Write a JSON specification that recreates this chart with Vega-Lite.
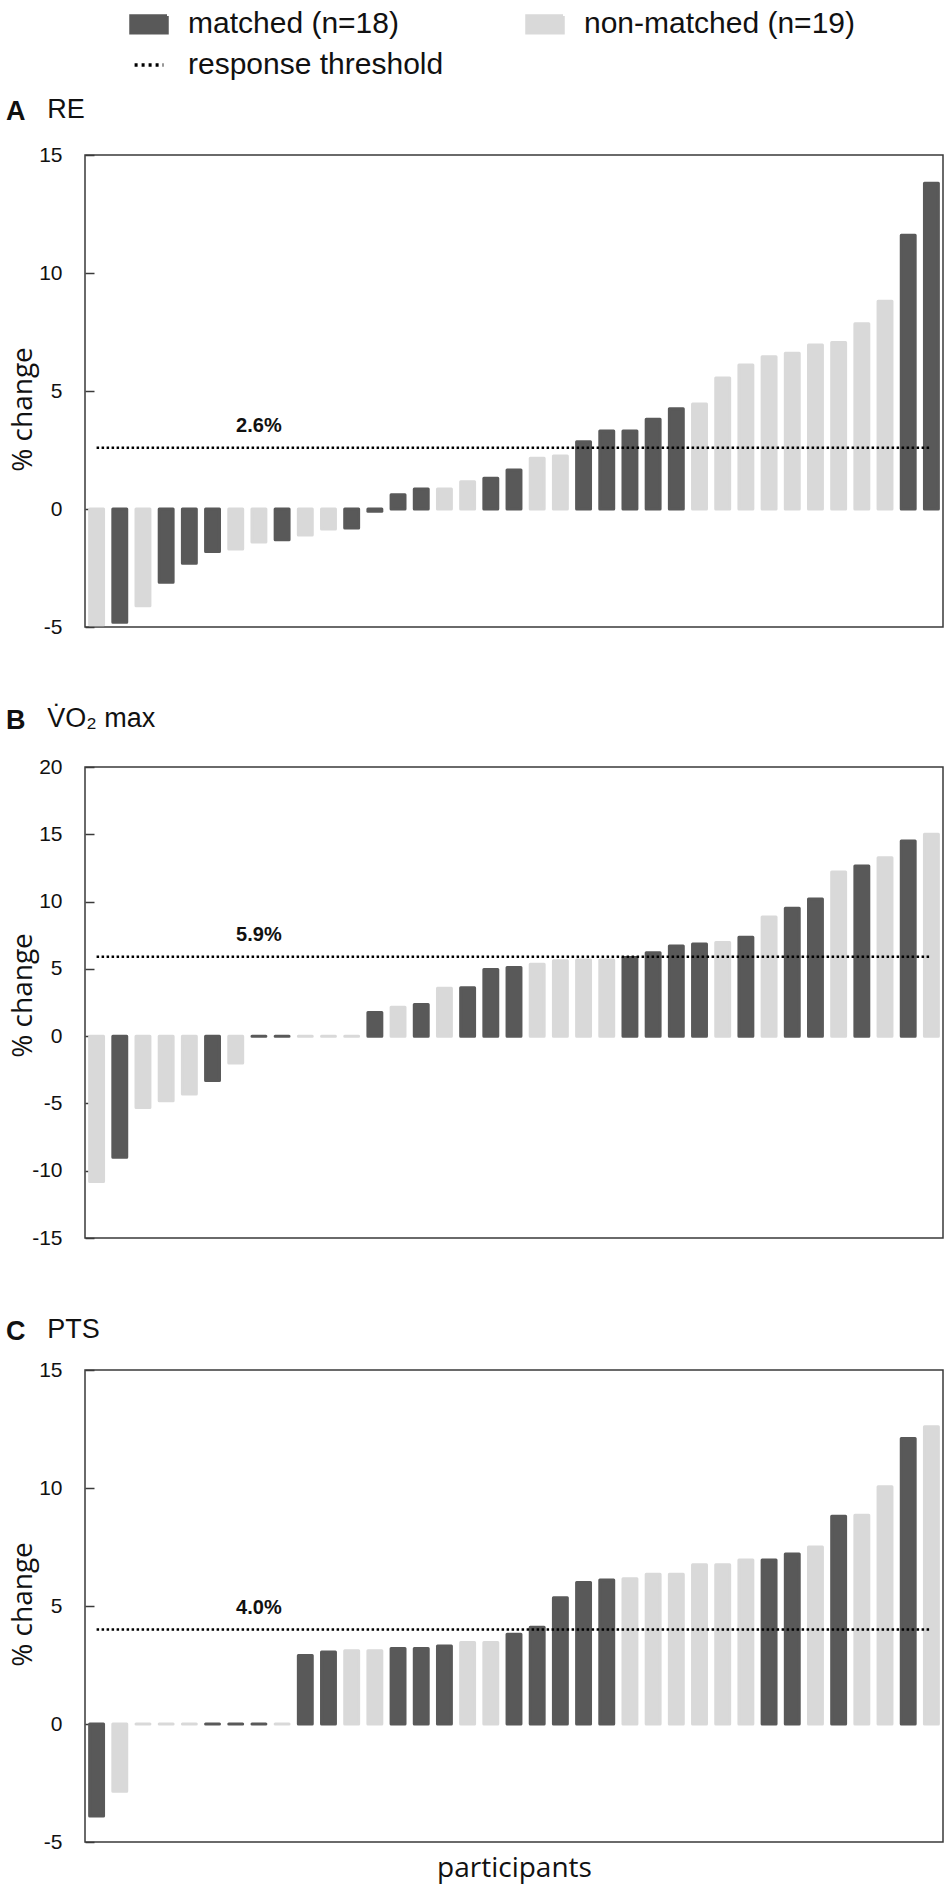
{
  "$schema": "https://vega.github.io/schema/vega-lite/v6.json",
  "background": "white",
  "padding": {"left": 5, "top": 4, "right": 5, "bottom": 4},
  "config": {
    "view": {"stroke": "#3a3a3a", "strokeWidth": 1.5},
    "axis": {"grid": false, "ticks": false, "tickSize": 0, "domain": false, "labelFont": "Liberation Sans", "labelFontSize": 21, "labelColor": "#111", "labelPadding": 23, "titleFont": "Open Sans", "titleFontSize": 28, "titleFontWeight": "normal", "titleColor": "#111"},
    "axisY": {"ticks": true, "tickSize": -9, "tickColor": "#3a3a3a", "tickWidth": 1.5, "labelPadding": 32, "titleX": -54, "titleBaseline": "alphabetic", "labelExpr": "'' + datum.value"},
    "title": {"font": "Liberation Sans Narrow, Liberation Sans", "fontSize": 27, "color": "#111", "anchor": "start", "frame": "bounds", "lineHeight": 27},
    "legend": {"labelFont": "Liberation Sans", "labelFontSize": 30, "labelColor": "#111", "labelOffset": 19, "labelLimit": 400, "columnPadding": 76, "rowPadding": 5, "symbolSize": 1296, "padding": 0}
  },
  "datasets": {
    "bars": [
      {"panel": "A", "p": 1, "group": "non-matched (n=19)", "value": -4.9},
      {"panel": "A", "p": 2, "group": "matched (n=18)", "value": -4.8},
      {"panel": "A", "p": 3, "group": "non-matched (n=19)", "value": -4.1},
      {"panel": "A", "p": 4, "group": "matched (n=18)", "value": -3.1},
      {"panel": "A", "p": 5, "group": "matched (n=18)", "value": -2.3},
      {"panel": "A", "p": 6, "group": "matched (n=18)", "value": -1.8},
      {"panel": "A", "p": 7, "group": "non-matched (n=19)", "value": -1.7},
      {"panel": "A", "p": 8, "group": "non-matched (n=19)", "value": -1.4},
      {"panel": "A", "p": 9, "group": "matched (n=18)", "value": -1.3},
      {"panel": "A", "p": 10, "group": "non-matched (n=19)", "value": -1.1},
      {"panel": "A", "p": 11, "group": "non-matched (n=19)", "value": -0.85},
      {"panel": "A", "p": 12, "group": "matched (n=18)", "value": -0.8},
      {"panel": "A", "p": 13, "group": "matched (n=18)", "value": -0.1},
      {"panel": "A", "p": 14, "group": "matched (n=18)", "value": 0.6},
      {"panel": "A", "p": 15, "group": "matched (n=18)", "value": 0.85},
      {"panel": "A", "p": 16, "group": "non-matched (n=19)", "value": 0.85},
      {"panel": "A", "p": 17, "group": "non-matched (n=19)", "value": 1.15},
      {"panel": "A", "p": 18, "group": "matched (n=18)", "value": 1.3},
      {"panel": "A", "p": 19, "group": "matched (n=18)", "value": 1.65},
      {"panel": "A", "p": 20, "group": "non-matched (n=19)", "value": 2.15},
      {"panel": "A", "p": 21, "group": "non-matched (n=19)", "value": 2.25},
      {"panel": "A", "p": 22, "group": "matched (n=18)", "value": 2.85},
      {"panel": "A", "p": 23, "group": "matched (n=18)", "value": 3.3},
      {"panel": "A", "p": 24, "group": "matched (n=18)", "value": 3.3},
      {"panel": "A", "p": 25, "group": "matched (n=18)", "value": 3.8},
      {"panel": "A", "p": 26, "group": "matched (n=18)", "value": 4.25},
      {"panel": "A", "p": 27, "group": "non-matched (n=19)", "value": 4.45},
      {"panel": "A", "p": 28, "group": "non-matched (n=19)", "value": 5.55},
      {"panel": "A", "p": 29, "group": "non-matched (n=19)", "value": 6.1},
      {"panel": "A", "p": 30, "group": "non-matched (n=19)", "value": 6.45},
      {"panel": "A", "p": 31, "group": "non-matched (n=19)", "value": 6.6},
      {"panel": "A", "p": 32, "group": "non-matched (n=19)", "value": 6.95},
      {"panel": "A", "p": 33, "group": "non-matched (n=19)", "value": 7.05},
      {"panel": "A", "p": 34, "group": "non-matched (n=19)", "value": 7.85},
      {"panel": "A", "p": 35, "group": "non-matched (n=19)", "value": 8.8},
      {"panel": "A", "p": 36, "group": "matched (n=18)", "value": 11.6},
      {"panel": "A", "p": 37, "group": "matched (n=18)", "value": 13.8},

      {"panel": "B", "p": 1, "group": "non-matched (n=19)", "value": -10.8},
      {"panel": "B", "p": 2, "group": "matched (n=18)", "value": -9.0},
      {"panel": "B", "p": 3, "group": "non-matched (n=19)", "value": -5.3},
      {"panel": "B", "p": 4, "group": "non-matched (n=19)", "value": -4.8},
      {"panel": "B", "p": 5, "group": "non-matched (n=19)", "value": -4.3},
      {"panel": "B", "p": 6, "group": "matched (n=18)", "value": -3.3},
      {"panel": "B", "p": 7, "group": "non-matched (n=19)", "value": -2.0},
      {"panel": "B", "p": 8, "group": "matched (n=18)", "value": 0},
      {"panel": "B", "p": 9, "group": "matched (n=18)", "value": 0},
      {"panel": "B", "p": 10, "group": "non-matched (n=19)", "value": 0},
      {"panel": "B", "p": 11, "group": "non-matched (n=19)", "value": 0},
      {"panel": "B", "p": 12, "group": "non-matched (n=19)", "value": 0},
      {"panel": "B", "p": 13, "group": "matched (n=18)", "value": 1.75},
      {"panel": "B", "p": 14, "group": "non-matched (n=19)", "value": 2.15},
      {"panel": "B", "p": 15, "group": "matched (n=18)", "value": 2.35},
      {"panel": "B", "p": 16, "group": "non-matched (n=19)", "value": 3.55},
      {"panel": "B", "p": 17, "group": "matched (n=18)", "value": 3.6},
      {"panel": "B", "p": 18, "group": "matched (n=18)", "value": 4.95},
      {"panel": "B", "p": 19, "group": "matched (n=18)", "value": 5.1},
      {"panel": "B", "p": 20, "group": "non-matched (n=19)", "value": 5.35},
      {"panel": "B", "p": 21, "group": "non-matched (n=19)", "value": 5.6},
      {"panel": "B", "p": 22, "group": "non-matched (n=19)", "value": 5.65},
      {"panel": "B", "p": 23, "group": "non-matched (n=19)", "value": 5.65},
      {"panel": "B", "p": 24, "group": "matched (n=18)", "value": 5.85},
      {"panel": "B", "p": 25, "group": "matched (n=18)", "value": 6.2},
      {"panel": "B", "p": 26, "group": "matched (n=18)", "value": 6.7},
      {"panel": "B", "p": 27, "group": "matched (n=18)", "value": 6.85},
      {"panel": "B", "p": 28, "group": "non-matched (n=19)", "value": 6.95},
      {"panel": "B", "p": 29, "group": "matched (n=18)", "value": 7.35},
      {"panel": "B", "p": 30, "group": "non-matched (n=19)", "value": 8.85},
      {"panel": "B", "p": 31, "group": "matched (n=18)", "value": 9.5},
      {"panel": "B", "p": 32, "group": "matched (n=18)", "value": 10.2},
      {"panel": "B", "p": 33, "group": "non-matched (n=19)", "value": 12.2},
      {"panel": "B", "p": 34, "group": "matched (n=18)", "value": 12.65},
      {"panel": "B", "p": 35, "group": "non-matched (n=19)", "value": 13.25},
      {"panel": "B", "p": 36, "group": "matched (n=18)", "value": 14.5},
      {"panel": "B", "p": 37, "group": "non-matched (n=19)", "value": 15.0},

      {"panel": "C", "p": 1, "group": "matched (n=18)", "value": -3.9},
      {"panel": "C", "p": 2, "group": "non-matched (n=19)", "value": -2.85},
      {"panel": "C", "p": 3, "group": "non-matched (n=19)", "value": 0},
      {"panel": "C", "p": 4, "group": "non-matched (n=19)", "value": 0},
      {"panel": "C", "p": 5, "group": "non-matched (n=19)", "value": 0},
      {"panel": "C", "p": 6, "group": "matched (n=18)", "value": 0},
      {"panel": "C", "p": 7, "group": "matched (n=18)", "value": 0},
      {"panel": "C", "p": 8, "group": "matched (n=18)", "value": 0},
      {"panel": "C", "p": 9, "group": "non-matched (n=19)", "value": 0},
      {"panel": "C", "p": 10, "group": "matched (n=18)", "value": 2.9},
      {"panel": "C", "p": 11, "group": "matched (n=18)", "value": 3.05},
      {"panel": "C", "p": 12, "group": "non-matched (n=19)", "value": 3.1},
      {"panel": "C", "p": 13, "group": "non-matched (n=19)", "value": 3.1},
      {"panel": "C", "p": 14, "group": "matched (n=18)", "value": 3.2},
      {"panel": "C", "p": 15, "group": "matched (n=18)", "value": 3.2},
      {"panel": "C", "p": 16, "group": "matched (n=18)", "value": 3.3},
      {"panel": "C", "p": 17, "group": "non-matched (n=19)", "value": 3.45},
      {"panel": "C", "p": 18, "group": "non-matched (n=19)", "value": 3.45},
      {"panel": "C", "p": 19, "group": "matched (n=18)", "value": 3.8},
      {"panel": "C", "p": 20, "group": "matched (n=18)", "value": 4.1},
      {"panel": "C", "p": 21, "group": "matched (n=18)", "value": 5.35},
      {"panel": "C", "p": 22, "group": "matched (n=18)", "value": 6.0},
      {"panel": "C", "p": 23, "group": "matched (n=18)", "value": 6.1},
      {"panel": "C", "p": 24, "group": "non-matched (n=19)", "value": 6.15},
      {"panel": "C", "p": 25, "group": "non-matched (n=19)", "value": 6.35},
      {"panel": "C", "p": 26, "group": "non-matched (n=19)", "value": 6.35},
      {"panel": "C", "p": 27, "group": "non-matched (n=19)", "value": 6.75},
      {"panel": "C", "p": 28, "group": "non-matched (n=19)", "value": 6.75},
      {"panel": "C", "p": 29, "group": "non-matched (n=19)", "value": 6.95},
      {"panel": "C", "p": 30, "group": "matched (n=18)", "value": 6.95},
      {"panel": "C", "p": 31, "group": "matched (n=18)", "value": 7.2},
      {"panel": "C", "p": 32, "group": "non-matched (n=19)", "value": 7.5},
      {"panel": "C", "p": 33, "group": "matched (n=18)", "value": 8.8},
      {"panel": "C", "p": 34, "group": "non-matched (n=19)", "value": 8.85},
      {"panel": "C", "p": 35, "group": "non-matched (n=19)", "value": 10.05},
      {"panel": "C", "p": 36, "group": "matched (n=18)", "value": 12.1},
      {"panel": "C", "p": 37, "group": "non-matched (n=19)", "value": 12.6}
    ],
    "thresholds": [
      {"panel": "A", "p": 1, "p2": 37, "lp": 8, "value": 2.6, "label": "2.6%"},
      {"panel": "B", "p": 1, "p2": 37, "lp": 8, "value": 5.9, "label": "5.9%"},
      {"panel": "C", "p": 1, "p2": 37, "lp": 8, "value": 4.0, "label": "4.0%"}
    ]
  },
  "resolve": {
    "scale": {"color": "shared", "stroke": "shared"},
    "legend": {"color": "shared"}
  },
  "spacing": 67,
  "vconcat": [
    {
      "title": {"text": "RE", "fontWeight": "normal", "dx": 42, "offset": -27},
      "resolve": {"scale": {"color": "shared", "stroke": "shared"}, "legend": {"color": "shared"}},
      "vconcat": [
        {
          "title": {"text": "A", "fontWeight": "bold", "dx": -3, "offset": 18},
          "width": 858,
          "height": 472,
          "encoding": {
            "y": {"field": "value", "type": "quantitative", "scale": {"domain": [-5, 15], "nice": false, "zero": false}, "axis": {"values": [-5, 0, 5, 10, 15], "title": "% change", "titleY": 254}}
          },
          "layer": [
            {
              "data": {"name": "bars"},
              "transform": [{"filter": "datum.panel === 'A'"}],
              "mark": {"type": "bar", "strokeWidth": 3, "strokeJoin": "round"},
              "encoding": {
                "x": {"field": "p", "type": "ordinal", "axis": null, "scale": {"paddingInner": 0.4, "paddingOuter": 0.2}},
                "color": {
                  "field": "group", "type": "nominal",
                  "scale": {"domain": ["matched (n=18)", "non-matched (n=19)", "response threshold"], "range": ["#595959", "#d9d9d9", "#000000"]},
                  "legend": {
                    "title": null, "orient": "none", "legendX": 44, "legendY": -151, "columns": 2, "direction": "horizontal",
                    "encode": {"symbols": {"update": {
                      "shape": {"signal": "datum.value === 'response threshold' ? 'M-0.8,0H0.8' : 'M-1,-0.46H1V0.46H-1Z'"},
                      "stroke": {"signal": "datum.value === 'response threshold' ? '#000' : 'transparent'"},
                      "strokeDash": {"signal": "datum.value === 'response threshold' ? [3, 4] : [1, 0]"},
                      "strokeWidth": {"value": 3.5}
                    }}}
                  }
                },
                "stroke": {
                  "field": "group", "type": "nominal",
                  "scale": {"domain": ["matched (n=18)", "non-matched (n=19)", "response threshold"], "range": ["#595959", "#d9d9d9", "#000000"]},
                  "legend": null
                }
              }
            },
            {
              "data": {"name": "thresholds"},
              "transform": [{"filter": "datum.panel === 'A'"}],
              "mark": {"type": "rule", "color": "#000", "strokeWidth": 2.5, "strokeDash": [2.5, 2.5]},
              "encoding": {"x": {"field": "p", "type": "ordinal"}, "x2": {"field": "p2"}}
            },
            {
              "data": {"name": "thresholds"},
              "transform": [{"filter": "datum.panel === 'A'"}],
              "mark": {"type": "text", "dy": -22, "font": "Liberation Sans", "fontSize": 20, "fontWeight": "bold", "color": "#111"},
              "encoding": {"x": {"field": "lp", "type": "ordinal"}, "text": {"field": "label"}}
            }
          ]
        }
      ]
    },
    {
      "title": {"text": "V\u0307O\u2082 max", "fontWeight": "normal", "dx": 42, "offset": -27},
      "resolve": {"scale": {"color": "shared", "stroke": "shared"}, "legend": {"color": "shared"}},
      "vconcat": [
        {
          "title": {"text": "B", "fontWeight": "bold", "dx": -3, "offset": 21},
          "width": 858,
          "height": 471,
          "encoding": {
            "y": {"field": "value", "type": "quantitative", "scale": {"domain": [-15, 20], "nice": false, "zero": false}, "axis": {"values": [-15, -10, -5, 0, 5, 10, 15, 20], "title": "% change", "titleY": 228}}
          },
          "layer": [
            {
              "data": {"name": "bars"},
              "transform": [{"filter": "datum.panel === 'B'"}],
              "mark": {"type": "bar", "strokeWidth": 3, "strokeJoin": "round"},
              "encoding": {
                "x": {"field": "p", "type": "ordinal", "axis": null, "scale": {"paddingInner": 0.4, "paddingOuter": 0.2}},
                "color": {"field": "group", "type": "nominal"},
                "stroke": {"field": "group", "type": "nominal", "legend": null}
              }
            },
            {
              "data": {"name": "thresholds"},
              "transform": [{"filter": "datum.panel === 'B'"}],
              "mark": {"type": "rule", "color": "#000", "strokeWidth": 2.5, "strokeDash": [2.5, 2.5]},
              "encoding": {"x": {"field": "p", "type": "ordinal"}, "x2": {"field": "p2"}}
            },
            {
              "data": {"name": "thresholds"},
              "transform": [{"filter": "datum.panel === 'B'"}],
              "mark": {"type": "text", "dy": -22, "font": "Liberation Sans", "fontSize": 20, "fontWeight": "bold", "color": "#111"},
              "encoding": {"x": {"field": "lp", "type": "ordinal"}, "text": {"field": "label"}}
            }
          ]
        }
      ]
    },
    {
      "title": {"text": "PTS", "fontWeight": "normal", "dx": 42, "offset": -27},
      "resolve": {"scale": {"color": "shared", "stroke": "shared"}, "legend": {"color": "shared"}},
      "vconcat": [
        {
          "title": {"text": "C", "fontWeight": "bold", "dx": -3, "offset": 13},
          "width": 858,
          "height": 472,
          "encoding": {
            "y": {"field": "value", "type": "quantitative", "scale": {"domain": [-5, 15], "nice": false, "zero": false}, "axis": {"values": [-5, 0, 5, 10, 15], "title": "% change", "titleY": 234}}
          },
          "layer": [
            {
              "data": {"name": "bars"},
              "transform": [{"filter": "datum.panel === 'C'"}],
              "mark": {"type": "bar", "strokeWidth": 3, "strokeJoin": "round"},
              "encoding": {
                "x": {"field": "p", "type": "ordinal", "scale": {"paddingInner": 0.4, "paddingOuter": 0.2}, "axis": {"labels": false, "title": "participants", "titlePadding": 12}},
                "color": {"field": "group", "type": "nominal"},
                "stroke": {"field": "group", "type": "nominal", "legend": null}
              }
            },
            {
              "data": {"name": "thresholds"},
              "transform": [{"filter": "datum.panel === 'C'"}],
              "mark": {"type": "rule", "color": "#000", "strokeWidth": 2.5, "strokeDash": [2.5, 2.5]},
              "encoding": {"x": {"field": "p", "type": "ordinal"}, "x2": {"field": "p2"}}
            },
            {
              "data": {"name": "thresholds"},
              "transform": [{"filter": "datum.panel === 'C'"}],
              "mark": {"type": "text", "dy": -22, "font": "Liberation Sans", "fontSize": 20, "fontWeight": "bold", "color": "#111"},
              "encoding": {"x": {"field": "lp", "type": "ordinal"}, "text": {"field": "label"}}
            }
          ]
        }
      ]
    }
  ]
}
